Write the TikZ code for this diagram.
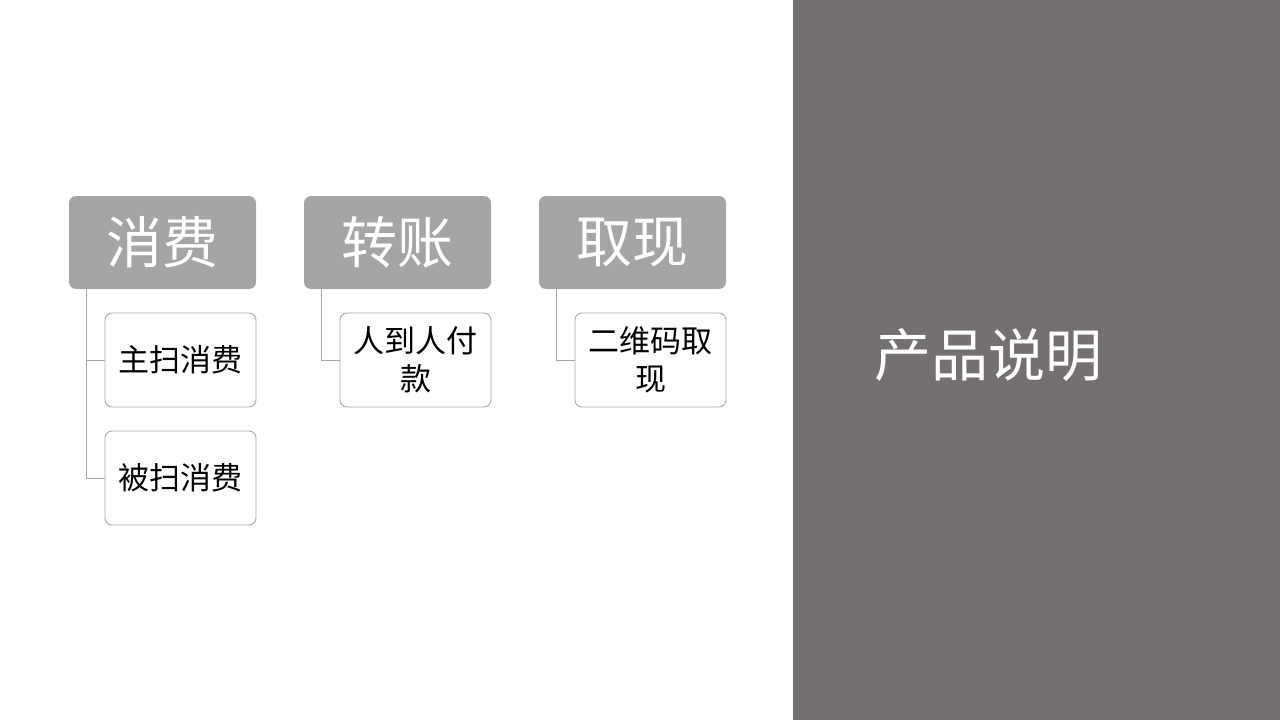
\documentclass[tikz,border=0pt]{standalone}
\usepackage{fontspec}
\setmainfont{Noto Sans CJK SC}
\usetikzlibrary{calc,positioning}
\definecolor{panelgray}{HTML}{757070}
\definecolor{headgray}{HTML}{A5A5A5}
\definecolor{edgegray}{HTML}{A8A8A8}
\begin{document}
\begin{tikzpicture}[x=1pt,y=-1pt,
	head/.style={fill=headgray,rounded corners=7pt,minimum width=187pt,minimum height=93pt,inner sep=0pt,text=white,font=\fontsize{56}{60}\selectfont},
	leaf/.style={draw=edgegray,line width=0.9pt,fill=white,rounded corners=7pt,minimum width=151pt,minimum height=94pt,inner sep=0pt,text width=140pt,align=center,font=\fontsize{31}{38}\selectfont},
	link/.style={draw=headgray,line width=0.9pt}]
			\useasboundingbox (0,0) rectangle (1280,720);
			\fill[panelgray] (793,0) rectangle (1280,720);
			\node[text=white,font=\fontsize{57}{60}\selectfont] (title) at (988,355) {产品说明};
			\node[head] (xf) at (162.5,242.5) {消费};
			\node[head] (zz) at (397.5,242.5) {转账};
			\node[head] (qx) at (632.5,242.5) {取现};
			\node[leaf] (zs) at (180.5,360) {主扫消费};
			\node[leaf] (bs) at (180.5,478) {被扫消费};
			\node[leaf] (rr) at (415.5,360) {人到人付\\款};
			\node[leaf] (ew) at (650.5,360) {二维码取\\现};
			\draw[link] ($(xf.south west)+(18,0)$) |- (bs.west);
			\draw[link] ($(xf.south west)+(18,0)$) |- (zs.west);
			\draw[link] ($(zz.south west)+(18,0)$) |- (rr.west);
			\draw[link] ($(qx.south west)+(18,0)$) |- (ew.west);
\end{tikzpicture}
\end{document}
